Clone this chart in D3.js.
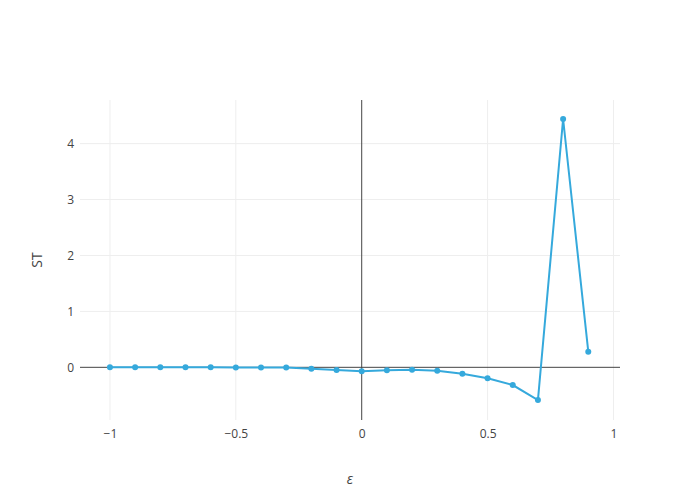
<!DOCTYPE html>
<html>
<head>
<meta charset="utf-8">
<script src="https://cdn.jsdelivr.net/npm/d3@7"></script>
<style>
body { margin: 0; background: #fff; }
text { font-family: "Open Sans", sans-serif; fill: #444; }
</style>
</head>
<body>
<div id="chart"></div>
<script>
var epsilon = [-1, -0.9, -0.8, -0.7, -0.6, -0.5, -0.4, -0.3, -0.2, -0.1, 0, 0.1, 0.2, 0.3, 0.4, 0.5, 0.6, 0.7, 0.8, 0.9];
var st = [0, 0, 0, 0, 0, -0.001, -0.002, -0.005, -0.025, -0.048, -0.072, -0.054, -0.043, -0.06, -0.114, -0.197, -0.317, -0.585, 4.44, 0.28];
var xTicks = [-1, -0.5, 0, 0.5, 1];
var yTicks = [0, 1, 2, 3, 4];

var width = 700, height = 500;
var margin = {top: 100, right: 80, bottom: 80, left: 80};
var w = width - margin.left - margin.right,
	h = height - margin.top - margin.bottom;

var x = d3.scaleLinear().domain([-1.119, 1.026]).range([0, w]);
var y = d3.scaleLinear().domain([-0.942, 4.78]).range([h, 0]);

var svg = d3.select("#chart").append("svg")
		.attr("width", width)
		.attr("height", height)
	.append("g")
		.attr("transform", "translate(" + margin.left + "," + margin.top + ")");

var fmt = function(d) { return d < 0 ? "\u2212" + Math.abs(d) : String(d); };

// grid
svg.selectAll(".xgrid").data(xTicks.filter(function(d) { return d !== 0; }))
	.enter().append("line")
		.attr("x1", function(d) { return x(d); }).attr("x2", function(d) { return x(d); })
		.attr("y1", 0).attr("y2", h)
		.attr("stroke", "#eee").attr("stroke-width", 1);
svg.selectAll(".ygrid").data(yTicks.filter(function(d) { return d !== 0; }))
	.enter().append("line")
		.attr("y1", function(d) { return y(d); }).attr("y2", function(d) { return y(d); })
		.attr("x1", 0).attr("x2", w)
		.attr("stroke", "#eee").attr("stroke-width", 1);

// zero lines
svg.append("line")
	.attr("x1", x(0)).attr("x2", x(0)).attr("y1", 0).attr("y2", h)
	.attr("stroke", "#444").attr("stroke-width", 1);
svg.append("line")
	.attr("x1", 0).attr("x2", w).attr("y1", y(0)).attr("y2", y(0))
	.attr("stroke", "#444").attr("stroke-width", 1);

// axes
var xAxis = d3.axisBottom(x).tickValues(xTicks).tickFormat(fmt).tickSize(0).tickPadding(9);
var yAxis = d3.axisLeft(y).tickValues(yTicks).tickFormat(fmt).tickSize(0).tickPadding(6);

svg.append("g").attr("transform", "translate(0," + h + ")").call(xAxis)
	.call(function(g) { g.select(".domain").remove(); })
	.selectAll("text").style("font-size", "12px").attr("fill", "#444");
svg.append("g").call(yAxis)
	.call(function(g) { g.select(".domain").remove(); })
	.selectAll("text").style("font-size", "12px").attr("fill", "#444");

// data
var data = epsilon.map(function(d, i) { return {x: d, y: st[i]}; });
var color = "#35a9dc";

svg.append("path")
	.datum(data)
	.attr("fill", "none")
	.attr("stroke", color)
	.attr("stroke-width", 2)
	.attr("d", d3.line().x(function(d) { return x(d.x); }).y(function(d) { return y(d.y); }));

svg.selectAll("circle").data(data)
	.enter().append("circle")
		.attr("cx", function(d) { return x(d.x); })
		.attr("cy", function(d) { return y(d.y); })
		.attr("r", 3)
		.attr("fill", color);

// titles
svg.append("text")
	.attr("x", w / 2).attr("y", h + 64)
	.attr("text-anchor", "middle")
	.style("font-size", "14px").style("font-style", "italic")
	.text("\u03b5");
svg.append("text")
	.attr("transform", "translate(-38," + (h / 2) + ") rotate(-90)")
	.attr("text-anchor", "middle")
	.style("font-size", "14px")
	.text("ST");
</script>
</body>
</html>
